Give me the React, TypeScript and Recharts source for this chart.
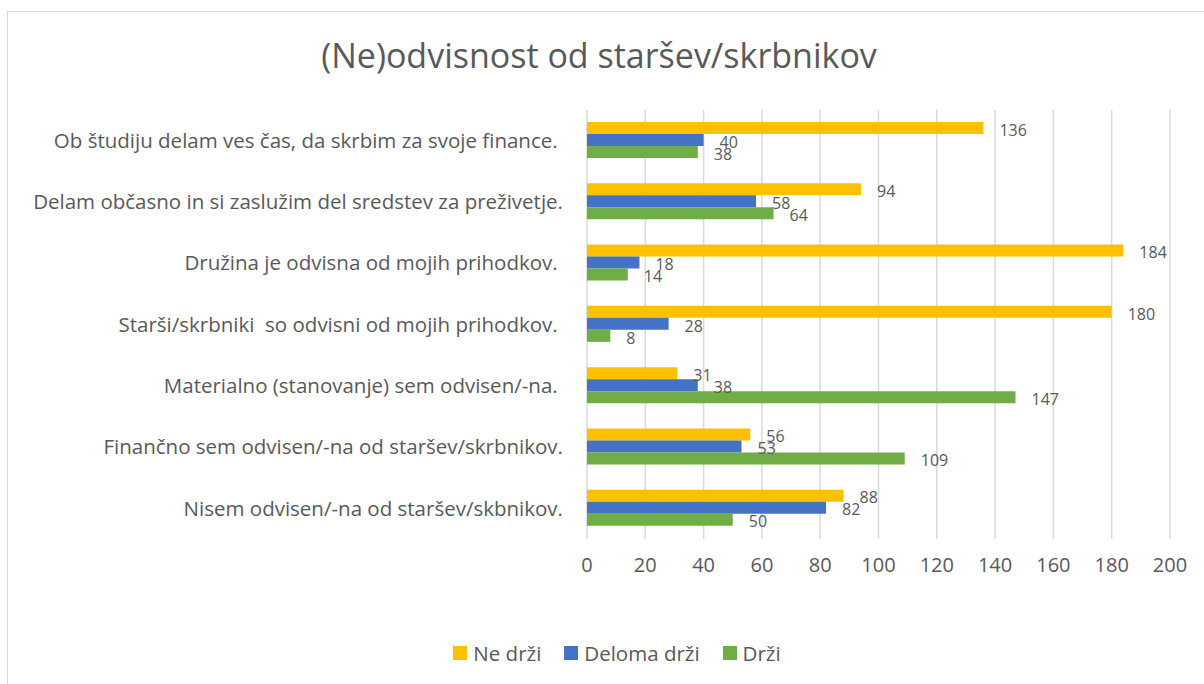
import React from "react";
import { BarChart, Bar, XAxis, YAxis, CartesianGrid, LabelList } from "recharts";

const categories = [
  "Ob študiju delam ves čas, da skrbim za svoje finance.\u00A0",
  "Delam občasno in si zaslužim del sredstev za preživetje.",
  "Družina je odvisna od mojih prihodkov.\u00A0",
  "Starši/skrbniki\u00A0 so odvisni od mojih prihodkov.\u00A0",
  "Materialno (stanovanje) sem odvisen/-na.\u00A0",
  "Finančno sem odvisen/-na od staršev/skrbnikov.",
  "Nisem odvisen/-na od staršev/skbnikov.",
];

const neDrzi = [136, 94, 184, 180, 31, 56, 88];
const delomaDrzi = [40, 58, 18, 28, 38, 53, 82];
const drzi = [38, 64, 14, 8, 147, 109, 50];

const xTicks = [0, 20, 40, 60, 80, 100, 120, 140, 160, 180, 200];

const series = [
  { key: "neDrzi", name: "Ne drži", color: "#FFC000" },
  { key: "delomaDrzi", name: "Deloma drži", color: "#4472C4" },
  { key: "drzi", name: "Drži", color: "#70AD47" },
];

const data = categories.map((name, i) => ({
  name,
  neDrzi: neDrzi[i],
  delomaDrzi: delomaDrzi[i],
  drzi: drzi[i],
}));

const font = "'Open Sans', Lato, sans-serif";
const textColor = "#595959";

export default function App() {
  return (
    <div
      style={{
        position: "fixed",
        left: 0,
        top: 0,
        width: 1204,
        height: 684,
        overflow: "hidden",
        background: "#fff",
        fontFamily: font,
      }}
    >
      <div
        style={{
          position: "absolute",
          left: 7,
          top: 11,
          width: 1240,
          height: 720,
          border: "1px solid #d9d9d9",
          boxSizing: "border-box",
        }}
      />
      <div
        style={{
          position: "absolute",
          left: 0,
          top: 33,
          width: 1198,
          textAlign: "center",
          fontSize: 34,
          color: textColor,
          lineHeight: "44px",
        }}
      >
        (Ne)odvisnost od staršev/skrbnikov
      </div>
      <div style={{ position: "absolute", left: 0, top: 0 }}>
        <BarChart
          width={1204}
          height={684}
          data={data}
          layout="vertical"
          margin={{ top: 110, right: 34, left: 0, bottom: 115 }}
          barCategoryGap={12}
          barGap={0}
        >
          <CartesianGrid horizontal={false} stroke="#d9d9d9" strokeWidth={1.5} />
          <XAxis
            type="number"
            domain={[0, 200]}
            ticks={xTicks}
            interval={0}
            axisLine={false}
            tickLine={false}
            tickSize={0}
            tickMargin={19}
            height={30}
            tick={{ fill: textColor, fontSize: 20, fontFamily: font }}
          />
          <YAxis
            type="category"
            dataKey="name"
            width={587}
            axisLine={false}
            tickLine={false}
            tickSize={0}
            tickMargin={24}
            interval={0}
            tick={{ fill: textColor, fontSize: 20.5, fontFamily: font }}
          />
          {series.map((s) => (
            <Bar key={s.key} dataKey={s.key} name={s.name} fill={s.color} isAnimationActive={false}>
              <LabelList
                dataKey={s.key}
                position="right"
                offset={16}
                fill={textColor}
                fontSize={16}
                fontFamily={font}
                dy={2}
              />
            </Bar>
          ))}
        </BarChart>
      </div>
      <div
        style={{
          position: "absolute",
          left: 0,
          top: 638,
          width: 1234,
          display: "flex",
          justifyContent: "center",
          gap: 23,
          fontSize: 20.5,
          color: textColor,
          lineHeight: "30px",
        }}
      >
        {series.map((s) => (
          <div key={s.key} style={{ display: "flex", alignItems: "center", gap: 6 }}>
            <span style={{ width: 14, height: 14, background: s.color, display: "inline-block" }} />
            <span>{s.name}</span>
          </div>
        ))}
      </div>
    </div>
  );
}
